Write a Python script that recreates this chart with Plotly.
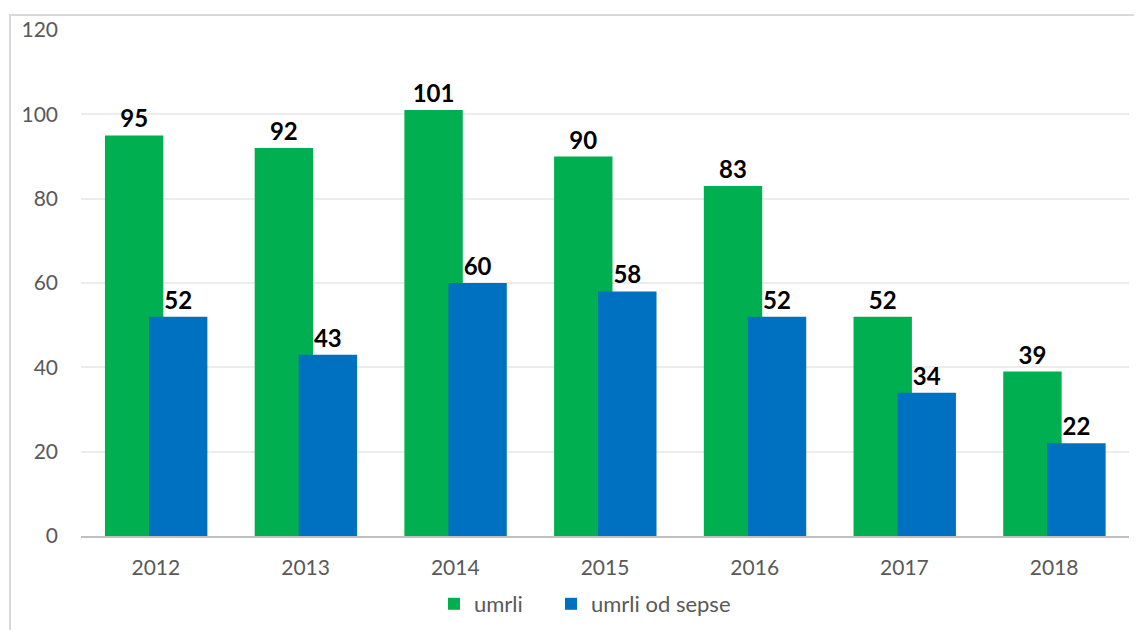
import plotly.graph_objects as go

years = ["2012", "2013", "2014", "2015", "2016", "2017", "2018"]
umrli = [95, 92, 101, 90, 83, 52, 39]
umrli_sepse = [52, 43, 60, 58, 52, 34, 22]
y_ticks = [0, 20, 40, 60, 80, 100, 120]

GREEN = "#00b050"
BLUE = "#0070c0"
FONT = "Lato, Carlito, Calibri, sans-serif"

# page has an 8px body margin; figure sized to fit the window
OFF = 8
W, H = 1142 - OFF, 630 - OFF
L, R, T, B = 73, 13, 22, 94
pw, ph = W - L - R, H - T - B

fig = go.Figure()
fig.add_trace(go.Bar(
    x=years, y=umrli, name="umrli", marker=dict(color=GREEN, line=dict(width=0)),
    width=0.39, offset=-0.34, legend="legend",
    text=[str(v) for v in umrli], textposition="outside", cliponaxis=False,
    textfont=dict(family=FONT, size=24, color="black", weight="bold"),
))
fig.add_trace(go.Bar(
    x=years, y=umrli_sepse, name="umrli od sepse", marker=dict(color=BLUE, line=dict(width=0)),
    width=0.39, offset=-0.046, legend="legend2",
    text=[str(v) for v in umrli_sepse], textposition="outside", cliponaxis=False,
    textfont=dict(family=FONT, size=24, color="black", weight="bold"),
))

def px_x(p):  # page pixel -> paper
    return (p - OFF - L) / pw

def px_y(p):
    return (H - B - (p - OFF)) / ph

fig.add_shape(type="rect", xref="paper", yref="paper",
              x0=px_x(10), x1=px_x(1160), y0=px_y(650), y1=px_y(15),
              line=dict(color="#d9d9d9", width=2), fillcolor="rgba(0,0,0,0)", layer="below")

leg_common = dict(orientation="h", xanchor="left", y=px_y(604), yanchor="middle",
                  font=dict(size=22, color="#595959"), itemsizing="constant",
                  bgcolor="rgba(0,0,0,0)")

fig.update_layout(
    width=W, height=H,
    margin=dict(l=L, r=R, t=T, b=B, autoexpand=False),
    paper_bgcolor="white", plot_bgcolor="white",
    barmode="overlay",
    font=dict(family=FONT, color="#595959", size=21),
    showlegend=True,
    legend=dict(x=px_x(434), **leg_common),
    legend2=dict(x=px_x(551), **leg_common),
    xaxis=dict(type="category", showgrid=False, showline=True, linecolor="#bfbfbf", linewidth=2,
               ticks="", ticklabelstandoff=12, range=[-0.5, 6.5], automargin=False),
    yaxis=dict(range=[0, 120], tickvals=y_ticks, showgrid=True, gridcolor="#ececec", gridwidth=1.5,
               zeroline=False, showline=False, ticks="", ticklabelstandoff=22, automargin=False),
)

fig.write_html("out.html")
